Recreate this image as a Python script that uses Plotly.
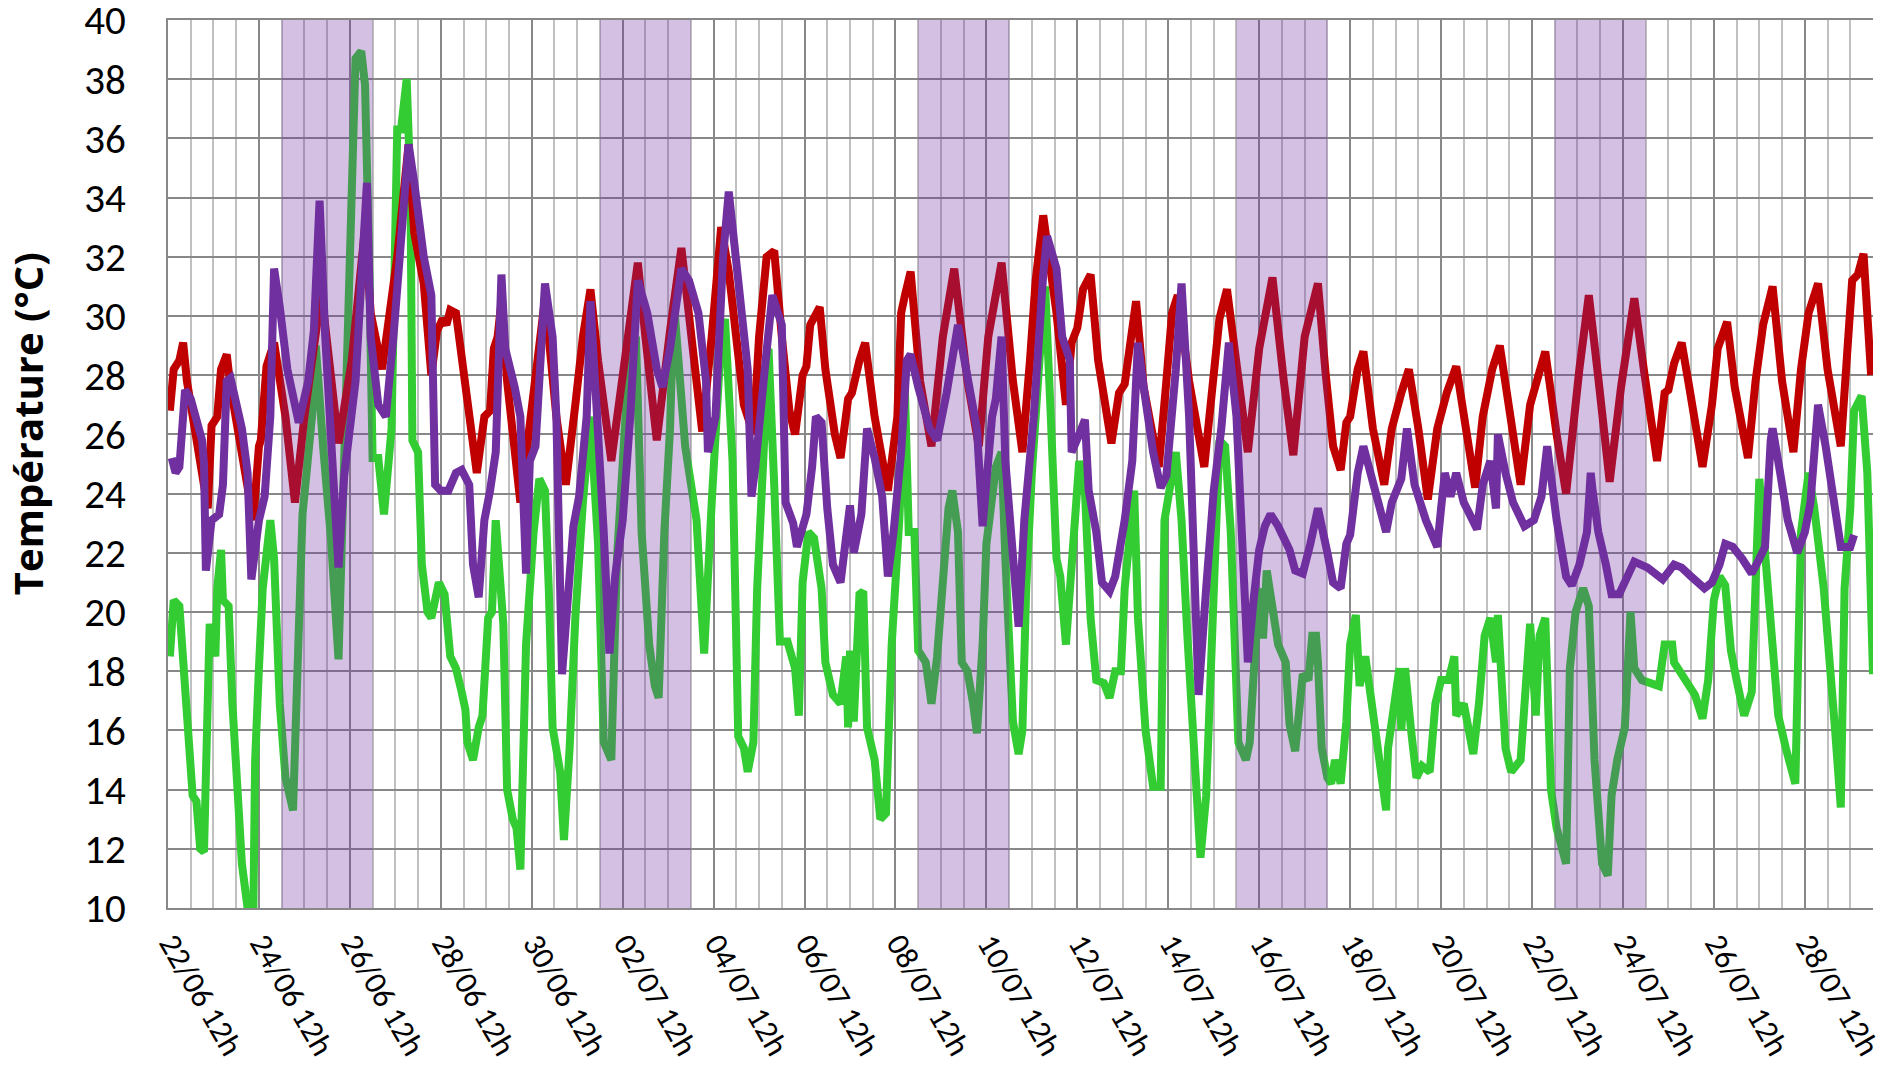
import pandas as pd
import plotly.graph_objects as go

START = pd.Timestamp("2022-06-22 12:00")

# ---- data: hours after 22/06 12h and temperatures (°C) ----
green_h = [1, 3, 6, 9, 13, 15, 17, 19, 22, 25, 26, 28, 29, 32, 34, 39, 43, 45, 46, 48, 50, 54, 56, 59, 62, 66, 69, 71,
           76, 78, 82, 86, 90, 94, 99, 102, 104, 106, 108, 111, 114, 118, 121, 123, 126, 128, 129, 132, 134, 137, 139,
           143, 146, 149, 152, 155, 157, 158, 161, 164, 166, 169, 171, 173, 177, 179, 182, 184, 186, 189, 193, 196,
           199, 201, 203, 207, 209, 212, 215, 219, 223, 227, 230, 234, 237, 243, 247, 250, 254, 257, 259, 262, 265,
           267, 273, 279, 283, 287, 292, 294, 298, 301, 304, 306, 309, 311, 315, 317, 320, 323, 327, 331, 333, 335,
           338, 341, 345, 347, 351, 355, 358, 359, 360, 362, 365, 367, 369, 373, 376, 379, 382, 386, 389, 391, 394,
           396, 400, 403, 406, 410, 412, 414, 417, 419, 422, 425, 427, 430, 432, 437, 440, 442, 446, 449, 451, 453,
           456, 460, 463, 466, 469, 471, 474, 475, 478, 481, 484, 487, 490, 494, 497, 500, 503, 505, 510, 512, 516,
           520, 524, 526, 532, 535, 538, 542, 545, 548, 550, 553, 555, 558, 561, 565, 569, 571, 574, 577, 578, 580,
           582, 586, 590, 592, 595, 599, 602, 604, 606, 607, 609, 612, 614, 616, 619, 622, 624, 627, 629, 632, 635,
           638, 643, 644, 647, 650, 651, 653, 656, 659, 662, 666, 669, 672, 676, 679, 680, 684, 689, 692, 695, 698,
           701, 702, 706, 709, 714, 716, 719, 722, 724, 727, 730, 733, 738, 740, 743, 747, 750, 753, 757, 760, 762,
           765, 767, 769, 772, 774, 778, 783, 787, 790, 794, 795, 801, 806, 810, 813, 816, 819, 822, 825, 828, 832,
           836, 839, 840, 843, 846, 850, 854, 859, 862, 866, 869, 874, 880, 883, 885, 888, 890, 894, 897, 900]
green_v = [18.5, 20.4, 20.2, 17.7, 13.8, 13.6, 12.0, 11.9, 19.6, 18.5, 20.8, 22.1, 20.4, 20.2, 16.9, 11.5, 9.5, 9.6,
           15.0, 18.1, 20.8, 23.1, 21.8, 16.9, 14.4, 13.3, 18.9, 23.3, 26.6, 29.0, 25.5, 22.5, 18.4, 28.5, 38.7, 38.95,
           37.8, 32.4, 25.2, 25.2, 23.3, 26.2, 36.3, 36.3, 38.0, 34.3, 25.8, 25.4, 21.6, 20.0, 19.8, 21.0, 20.6, 18.5,
           18.1, 17.3, 16.7, 15.6, 15.0, 16.1, 16.5, 19.8, 20.0, 23.1, 19.6, 14.0, 13.0, 12.7, 11.3, 18.9, 22.7, 24.5,
           24.1, 20.8, 16.1, 14.6, 12.3, 15.4, 19.8, 23.7, 26.6, 22.3, 15.6, 15.0, 21.8, 28.2, 29.3, 22.7, 18.9, 17.5,
           17.1, 22.7, 26.2, 30.5, 25.6, 23.1, 18.6, 23.7, 29.3, 29.9, 25.1, 15.8, 15.4, 14.6, 15.6, 20.8, 26.6, 28.9,
           24.3, 19.0, 19.0, 18.1, 16.5, 21.0, 22.7, 22.5, 20.8, 18.3, 17.2, 16.9, 18.5, 16.1, 18.7, 16.3, 20.6, 20.7,
           16.1, 15.0, 13.0, 13.2, 18.9, 23.1, 27.5, 22.7, 22.7, 18.7, 18.3, 16.9, 18.5, 21.8, 23.5, 24.1, 22.7, 18.3,
           18.0, 16.9, 15.9, 18.9, 22.3, 24.9, 25.4, 21.8, 16.3, 15.2, 16.0, 20.8, 24.7, 28.5, 31.0, 26.6, 21.8, 21.2,
           18.9, 19.8, 22.7, 25.1, 24.1, 19.8, 17.7, 17.6, 17.1, 18.0, 18.0, 20.8, 24.1, 19.8, 16.0, 14.1, 14.1, 23.1,
           25.4, 23.1, 19.3, 15.2, 11.7, 13.8, 17.8, 21.8, 25.8, 25.6, 22.7, 15.6, 15.0, 15.6, 18.9, 20.8, 19.1, 21.4,
           20.4, 18.9, 18.3, 16.2, 15.3, 17.9, 17.7, 19.2, 19.2, 18.3, 15.4, 14.4, 14.2, 15.0, 14.2, 16.3, 18.9, 19.9,
           17.5, 18.5, 17.1, 15.8, 13.3, 15.4, 16.7, 18.1, 16.0, 18.1, 16.1, 14.4, 14.8, 14.6, 16.9, 17.7, 17.7, 18.5,
           16.5, 16.9, 15.2, 16.9, 19.2, 19.8, 18.3, 19.9, 15.4, 14.6, 15.0, 16.9, 19.6, 16.5, 19.2, 19.8, 14.0, 12.7,
           11.5, 18.1, 20.0, 20.8, 20.2, 15.0, 11.5, 11.1, 13.8, 15.0, 15.6, 16.1, 20.0, 18.1, 17.7, 17.6, 17.5, 18.9,
           18.9, 18.3, 17.7, 17.2, 16.4, 17.7, 20.4, 21.2, 20.9, 18.7, 17.7, 16.5, 17.3, 22.3, 24.5, 22.0, 19.5, 16.5,
           15.4, 14.2, 22.7, 24.7, 23.5, 20.8, 16.0, 13.4, 20.8, 23.5, 26.8, 27.3, 24.7, 17.9]

red_h = [1, 3, 6, 8, 10, 21, 23, 26, 28, 31, 33, 45, 48, 49, 52, 56, 62, 67, 72, 77, 81, 90, 97, 104, 107, 113, 121,
         127, 130, 135, 139, 142, 145, 147, 149, 152, 157, 163, 167, 170, 172, 174, 176, 179, 186, 191, 194, 197, 199,
         205, 210, 215, 219, 223, 227, 234, 240, 248, 252, 258, 265, 271, 277, 282, 287, 292, 296, 300, 304, 309, 312,
         316, 320, 324, 328, 331, 335, 337, 339, 344, 347, 352, 355, 359, 361, 365, 368, 373, 380, 385, 387, 389, 392,
         397, 403, 409, 415, 422, 428, 433, 440, 446, 451, 455, 458, 462, 465, 469, 474, 477, 480, 483, 487, 491, 498,
         502, 505, 508, 511, 515, 523, 527, 530, 533, 539, 547, 551, 555, 559, 564, 570, 576, 583, 589, 594, 600, 607,
         611, 615, 619, 622, 624, 628, 631, 636, 642, 646, 651, 655, 660, 665, 670, 675, 680, 685, 690, 694, 699, 703,
         709, 714, 719, 724, 727, 733, 738, 745, 750, 755, 761, 767, 774, 779, 786, 790, 792, 795, 799, 803, 810, 815,
         818, 823, 827, 834, 838, 842, 847, 852, 858, 862, 866, 871, 876, 883, 886, 889, 892, 895, 899]
red_v = [26.8, 28.2, 28.5, 29.1, 27.8, 23.5, 26.3, 26.6, 28.2, 28.7, 27.6, 23.1, 25.6, 25.8, 28.3, 29.1, 26.6, 23.7,
         26.6, 28.7, 30.8, 25.7, 28.5, 33.0, 30.1, 28.2, 32.0, 35.8, 32.8, 31.1, 28.0, 29.5, 29.9, 29.7, 30.2, 30.1,
         27.8, 24.7, 26.6, 26.8, 28.9, 29.3, 30.5, 27.8, 23.7, 26.2, 28.2, 29.5, 30.6, 26.6, 24.3, 27.0, 29.3, 30.9,
         28.5, 25.1, 28.2, 31.8, 29.3, 25.8, 29.5, 32.3, 28.9, 26.1, 29.3, 33.0, 31.5, 29.0, 27.0, 26.0, 29.3, 32.0,
         32.2, 29.3, 26.8, 26.0, 28.0, 28.3, 29.7, 30.3, 28.2, 26.0, 25.2, 27.2, 27.4, 28.5, 29.1, 26.6, 24.1, 26.6,
         30.1, 30.7, 31.5, 27.8, 25.6, 29.3, 31.6, 27.8, 25.6, 29.3, 31.8, 27.8, 25.4, 28.5, 31.2, 33.4, 32.0, 30.1,
         27.0, 29.1, 29.6, 30.9, 31.4, 28.5, 25.7, 27.4, 27.7, 29.3, 30.5, 27.6, 24.9, 27.8, 30.1, 30.7, 27.8, 24.9,
         27.4, 29.9, 30.9, 28.2, 25.4, 28.9, 31.3, 27.8, 25.3, 29.3, 31.1, 28.1, 25.6, 24.8, 26.4, 26.6, 28.2, 28.8,
         26.2, 24.3, 26.2, 27.4, 28.2, 26.2, 23.8, 26.2, 27.4, 28.3, 26.2, 24.2, 26.6, 28.2, 29.0, 26.2, 24.3, 27.0,
         28.0, 28.8, 26.0, 24.0, 28.2, 30.7, 27.9, 24.4, 27.6, 30.6, 28.2, 25.1, 27.4, 27.5, 28.4, 29.1, 27.6, 24.9,
         27.0, 28.9, 29.8, 27.6, 25.2, 27.8, 29.7, 31.0, 27.8, 25.4, 28.2, 30.1, 31.1, 28.2, 25.6, 28.7, 31.2, 31.4,
         32.1, 28.0]

purple_h = [2, 4, 6, 9, 12, 18, 19, 20, 23, 27, 29, 31, 33, 39, 42, 44, 48, 51, 54, 56, 59, 63, 69, 74, 77, 80, 83,
            87, 90, 93, 99, 105, 107, 111, 115, 119, 123, 127, 130, 135, 139, 141, 144, 148, 152, 155, 159, 161, 164,
            167, 170, 173, 176, 178, 183, 186, 189, 191, 194, 197, 199, 203, 205, 208, 211, 214, 217, 221, 223, 227,
            230, 233, 236, 240, 244, 248, 253, 258, 261, 265, 271, 275, 280, 284, 285, 289, 293, 296, 300, 302, 306,
            308, 310, 315, 319, 324, 326, 330, 332, 337, 340, 342, 345, 348, 351, 355, 357, 360, 362, 366, 369, 373,
            377, 380, 383, 387, 390, 392, 396, 402, 406, 411, 417, 422, 427, 430, 435, 437, 440, 442, 446, 449, 452,
            457, 462, 464, 469, 472, 476, 477, 481, 484, 486, 490, 493, 497, 500, 505, 509, 512, 515, 520, 524, 527,
            532, 535, 539, 542, 544, 548, 552, 556, 560, 564, 567, 570, 573, 576, 579, 582, 586, 592, 595, 599, 603,
            607, 612, 615, 619, 622, 624, 628, 631, 635, 639, 643, 646, 651, 654, 658, 664, 667, 670, 672, 674, 677,
            680, 684, 687, 691, 694, 698, 701, 702, 706, 710, 716, 721, 725, 728, 733, 738, 741, 745, 749, 751, 752,
            755, 759, 762, 766, 769, 774, 781, 785, 789, 795, 799, 804, 811, 815, 819, 822, 826, 831, 836, 840, 843,
            846, 847, 851, 855, 860, 864, 867, 871, 875, 879, 883, 888, 890]
purple_v = [25.2, 24.7, 24.9, 27.5, 27.2, 25.8, 25.0, 21.4, 23.1, 23.3, 24.3, 27.8, 27.9, 26.2, 24.7, 21.1, 23.1, 23.9,
            26.6, 31.6, 30.3, 28.2, 26.4, 27.8, 29.5, 33.9, 29.3, 25.0, 21.5, 24.6, 27.8, 34.5, 29.3, 27.0, 26.6, 29.3,
            32.4, 35.8, 34.5, 32.0, 30.7, 24.3, 24.1, 24.1, 24.7, 24.8, 24.3, 21.6, 20.5, 23.1, 24.1, 25.4, 31.4, 28.9,
            27.6, 26.6, 21.3, 25.1, 25.6, 29.3, 31.1, 29.3, 26.6, 17.9, 20.8, 22.9, 23.9, 26.6, 30.5, 26.6, 22.7, 18.6,
            21.2, 23.1, 26.6, 31.2, 30.1, 28.2, 27.6, 28.9, 31.6, 31.2, 30.1, 27.8, 25.4, 26.6, 32.0, 34.2, 32.0, 30.5,
            28.2, 23.9, 24.9, 28.2, 30.7, 29.7, 23.7, 23.0, 22.2, 23.3, 24.9, 26.6, 26.4, 23.5, 21.6, 21.0, 22.3, 23.6,
            22.0, 23.3, 26.2, 25.2, 23.9, 21.2, 22.7, 25.4, 28.5, 28.7, 27.6, 26.2, 25.8, 27.4, 29.7, 28.0, 26.2, 22.9,
            26.6, 27.2, 29.3, 25.1, 21.6, 19.5, 23.1, 26.6, 31.4, 32.7, 31.6, 29.3, 28.5, 25.4, 26.0, 26.5, 24.1, 22.7,
            21.0, 20.7, 21.2, 23.1, 25.1, 29.1, 27.6, 25.4, 24.2, 24.6, 28.2, 31.1, 26.6, 21.8, 17.2, 20.8, 24.1, 26.2,
            29.1, 26.6, 22.7, 18.3, 20.4, 22.1, 22.9, 23.3, 22.9, 22.1, 21.4, 21.3, 22.3, 23.5, 22.0, 21.0, 20.8, 22.3,
            22.6, 24.7, 25.6, 24.7, 23.7, 22.7, 23.7, 24.5, 26.2, 24.3, 23.1, 22.7, 22.2, 23.5, 24.7, 23.9, 24.7, 23.7,
            23.3, 22.8, 24.3, 25.1, 23.5, 26.0, 24.7, 23.7, 22.9, 23.1, 23.9, 25.6, 23.1, 21.2, 20.9, 21.6, 22.7, 24.7,
            24.1, 22.7, 21.6, 20.6, 20.6, 21.0, 21.7, 21.5, 21.3, 21.1, 21.6, 21.5, 21.2, 20.8, 21.0, 21.6, 22.3, 22.2,
            21.8, 21.3, 21.8, 22.2, 25.8, 26.2, 24.7, 23.1, 22.0, 22.7, 23.7, 27.0, 25.6, 23.7, 22.2, 22.2, 22.6]

# shaded periods (start day, end day)
band_starts = ["2022-06-25", "2022-07-02", "2022-07-09", "2022-07-16", "2022-07-23"]
band_ends = ["2022-06-27", "2022-07-04", "2022-07-11", "2022-07-18", "2022-07-25"]

x_end_hours = 900


def to_dates(hours):
    return START + pd.to_timedelta(hours, unit="h")


FONT = "Calibri, Carlito, Lato, sans-serif"
TITLE_FONT = "Open Sans, sans-serif"

fig = go.Figure()
for name, h, v, col in [("Extérieur", green_h, green_v, "#33CC33"),
                        ("Sonde 1", red_h, red_v, "#C00000"),
                        ("Sonde 2", purple_h, purple_v, "#7030A0")]:
    fig.add_trace(go.Scatter(x=to_dates(h), y=v, mode="lines", name=name,
                             line=dict(color=col, width=8), showlegend=False))

for s, e in zip(band_starts, band_ends):
    fig.add_shape(type="rect", xref="x", yref="paper", x0=s, x1=e, y0=0, y1=1,
                  fillcolor="rgba(112,48,160,0.30)", line=dict(width=0), layer="above")

fig.update_layout(
    width=1891, height=1081,
    margin=dict(l=168, r=18, t=20, b=173, autoexpand=False),
    paper_bgcolor="white", plot_bgcolor="white",
    font=dict(family=FONT, color="black"),
    annotations=[dict(text="<b>Température (°C)</b>", xref="paper", yref="paper",
                      x=-0.0827, y=0.546, xanchor="center", yanchor="middle",
                      textangle=-90, showarrow=False, font=dict(size=40, family=TITLE_FONT))],
)
fig.update_xaxes(
    type="date", automargin=False,
    range=[START, START + pd.Timedelta(hours=x_end_hours)],
    tick0=START, dtick=2 * 86400000, tickformat="%d/%m %Hh", tickangle=60,
    tickfont=dict(size=32, family=FONT),
    showgrid=True, gridcolor="#888888", gridwidth=2,
    minor=dict(tick0=START, dtick=43200000, showgrid=True, gridcolor="#C0C0C0", gridwidth=2),
    zeroline=False, showline=True, linecolor="#888888", linewidth=2, mirror=True,
    ticks="", ticklabelstandoff=2, ticklabelshift=4, ticklabeloverflow="allow",
)
fig.update_yaxes(
    automargin=False,
    range=[10, 40], dtick=2, tick0=10,
    tickfont=dict(size=41, family=FONT),
    showgrid=True, gridcolor="#888888", gridwidth=2,
    zeroline=False, showline=True, linecolor="#888888", linewidth=2,
    ticks="", ticklabelstandoff=32, ticklabeloverflow="allow",
)

fig.write_html("out.html", config={"displayModeBar": False},
               post_script="document.body.style.margin='0';")
